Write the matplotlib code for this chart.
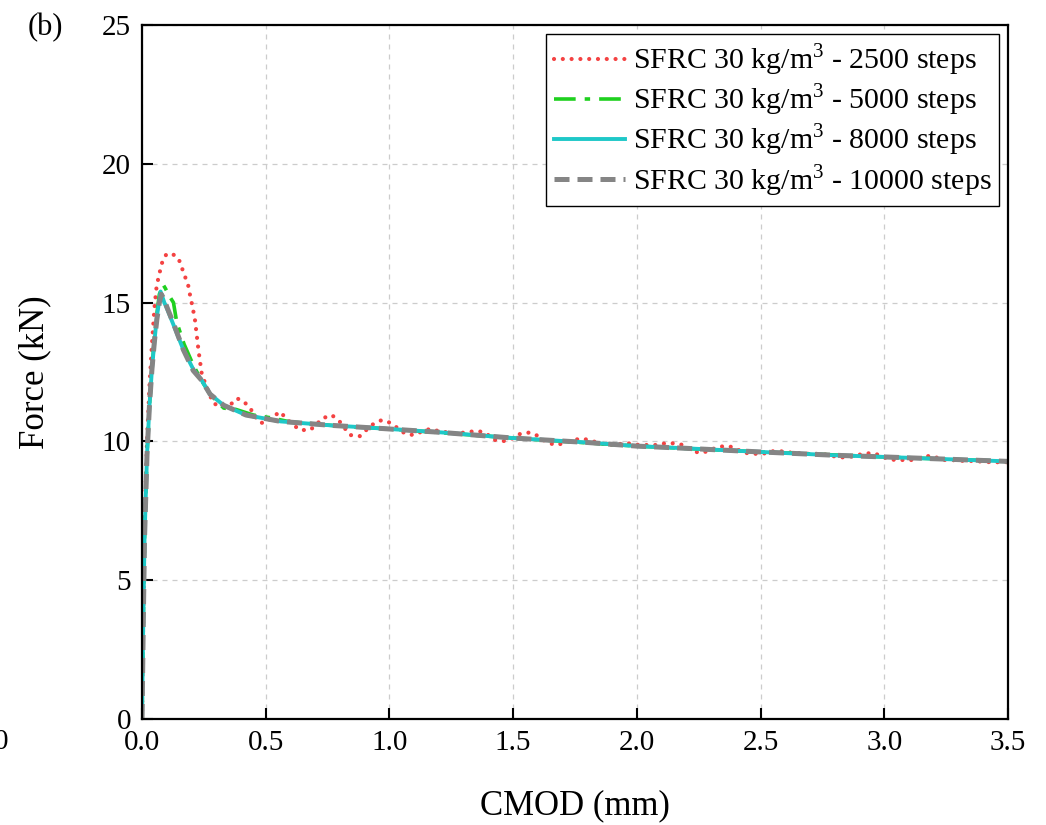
import matplotlib.pyplot as plt

plt.rcParams['font.family'] = ['Liberation Serif', 'DejaVu Serif']
plt.rcParams['mathtext.fontset'] = 'custom'
plt.rcParams['mathtext.rm'] = 'Liberation Serif'

# 2500 steps (red dotted)
x_2500 = [0, 0.005, 0.01, 0.02, 0.03, 0.04, 0.05, 0.059, 0.069, 0.077, 0.086, 0.1, 0.12, 0.147,
          0.174, 0.187, 0.194, 0.205, 0.214, 0.228, 0.241, 0.26, 0.288, 0.322, 0.355, 0.383, 0.41,
          0.437, 0.477, 0.505, 0.53, 0.558, 0.582, 0.61, 0.639, 0.679, 0.705, 0.726, 0.767, 0.80,
          0.84, 0.88, 0.928, 0.969, 1.0, 1.03, 1.063, 1.096, 1.13, 1.164, 1.19, 1.23, 1.272, 1.326,
          1.36, 1.39, 1.42, 1.46, 1.49, 1.528, 1.566, 1.60, 1.633, 1.67, 1.705, 1.74, 1.78, 1.81,
          1.85, 1.89, 1.92, 1.966, 2.0, 2.04, 2.08, 2.114, 2.15, 2.188, 2.228, 2.266, 2.3, 2.33,
          2.37, 2.40, 2.43, 2.485, 2.52, 2.56, 2.62, 2.7, 2.75, 2.82, 2.86, 2.923, 2.96, 3.02,
          3.05, 3.12, 3.165, 3.2, 3.23, 3.27, 3.31, 3.34, 3.38, 3.43, 3.5]
y_2500 = [0, 3.8, 7.0, 10.0, 12.0, 13.5, 14.8, 15.6, 16.0, 16.3, 16.6, 16.75, 16.77, 16.6,
          15.93, 15.6, 15.27, 14.8, 14.37, 13.29, 12.45, 11.97, 11.37, 11.25, 11.3, 11.55, 11.45,
          11.19, 10.66, 10.7, 10.89, 11.07, 10.83, 10.6, 10.41, 10.41, 10.6, 10.82, 10.95, 10.7,
          10.23, 10.19, 10.59, 10.77, 10.68, 10.5, 10.28, 10.23, 10.35, 10.45, 10.39, 10.33, 10.28, 10.35,
          10.37, 10.3, 10.06, 10.01, 10.07, 10.27, 10.32, 10.2, 9.98, 9.87, 9.93, 10.05, 10.1, 10.04,
          9.93, 9.87, 9.9, 9.93, 9.88, 9.87, 9.87, 9.93, 9.93, 9.87, 9.63, 9.59, 9.7, 9.81,
          9.83, 9.75, 9.59, 9.55, 9.57, 9.67, 9.6, 9.55, 9.55, 9.42, 9.44, 9.57, 9.57, 9.35,
          9.33, 9.33, 9.47, 9.47, 9.33, 9.33, 9.3, 9.3, 9.28, 9.25, 9.25]

# 5000 steps (green dash-dot)
x_5000 = [0, 0.005, 0.01, 0.02, 0.03, 0.04, 0.05, 0.06, 0.07, 0.085, 0.095, 0.106, 0.127, 0.14,
          0.17, 0.207, 0.24, 0.275, 0.33, 0.38, 0.45, 0.52, 0.6, 0.8, 1.0, 1.5, 2.0, 2.5, 3.0, 3.5]
y_5000 = [0, 3.5, 6.5, 9.5, 11.3, 12.6, 13.7, 14.6, 15.3, 15.65, 15.5, 15.3, 15.0, 14.3,
          13.5, 12.75, 12.2, 11.7, 11.2, 11.15, 10.95, 10.85, 10.7, 10.55, 10.45, 10.12, 9.83, 9.62, 9.44, 9.28]

# 8000 steps (cyan solid)
x_8000 = [0, 0.005, 0.01, 0.02, 0.03, 0.04, 0.05, 0.06, 0.075, 0.09, 0.1, 0.127, 0.167, 0.207,
          0.241, 0.275, 0.33, 0.42, 0.56, 0.76, 0.96, 1.2, 1.5, 1.8, 2.0, 2.2, 2.5, 2.8, 3.0, 3.25, 3.5]
y_8000 = [0, 3.5, 6.5, 9.5, 11.3, 12.6, 13.6, 14.5, 15.4, 15.0, 14.8, 14.2, 13.3, 12.6,
          12.2, 11.7, 11.3, 10.95, 10.72, 10.58, 10.47, 10.33, 10.12, 9.96, 9.83, 9.75, 9.62, 9.5, 9.44, 9.36, 9.28]

# 10000 steps (gray dashed)
x_10000 = [0, 0.005, 0.01, 0.02, 0.03, 0.04, 0.05, 0.06, 0.07, 0.078, 0.09, 0.1, 0.127, 0.167,
           0.207, 0.241, 0.275, 0.33, 0.42, 0.56, 0.76, 0.96, 1.2, 1.5, 1.8, 2.0, 2.2, 2.5, 2.8,
           3.0, 3.25, 3.5]
y_10000 = [0, 3.5, 6.5, 9.5, 11.3, 12.6, 13.6, 14.4, 15.0, 15.3, 15.1, 14.85, 14.25, 13.3,
           12.55, 12.2, 11.7, 11.3, 10.95, 10.72, 10.58, 10.47, 10.33, 10.12, 9.96, 9.83, 9.75, 9.62, 9.5,
           9.44, 9.36, 9.28]

labels = ['SFRC 30 kg/m$^3$ - 2500 steps', 'SFRC 30 kg/m$^3$ - 5000 steps',
          'SFRC 30 kg/m$^3$ - 8000 steps', 'SFRC 30 kg/m$^3$ - 10000 steps']
x_ticks = [0.0, 0.5, 1.0, 1.5, 2.0, 2.5, 3.0, 3.5]
y_ticks = [0, 5, 10, 15, 20, 25]

fig = plt.figure(figsize=(10.46, 8.25), dpi=100)
ax = fig.add_axes([0.1358, 0.1285, 0.8279, 0.8412])

ax.plot(x_2500, y_2500, color='#f44242', lw=3.0, linestyle=(0, (0.01, 2.1)),
        dash_capstyle='round', label=labels[0])
ax.plot(x_5000, y_5000, color='#1fd01f', lw=2.6, linestyle=(0, (6, 2.5, 1.5, 2.5)), label=labels[1])
ax.plot(x_8000, y_8000, color='#1ec8c8', lw=2.8, label=labels[2])
ax.plot(x_10000, y_10000, color='#858585', lw=3.6, linestyle=(0, (3.0, 1.6)), label=labels[3])

ax.set_xlim(0, 3.5)
ax.set_ylim(0, 25)
ax.set_xticks(x_ticks)
ax.set_xticklabels(['%.1f' % t for t in x_ticks])
ax.set_yticks(y_ticks)
ax.grid(True, linestyle=(0, (4, 4)), color='#cccccc', lw=0.9)
ax.set_axisbelow(True)
ax.tick_params(direction='in', length=8, width=1.5, labelsize=21, pad=8)
for s in ax.spines.values():
    s.set_linewidth(1.6)

ax.set_xlabel('CMOD (mm)', fontsize=25, labelpad=24)
ax.set_ylabel('Force (kN)', fontsize=25, labelpad=36)

leg = ax.legend(loc='upper right', fontsize=21.5, frameon=True, fancybox=False,
                edgecolor='black', framealpha=1, handlelength=2.4, handletextpad=0.25,
                labelspacing=0.12, borderpad=0.25, borderaxespad=0.3)
leg.get_frame().set_linewidth(1.0)

fig.text(0.043, 0.967, '(b)', fontsize=22, ha='center', va='center')
fig.text(0.001, 0.101, '0', fontsize=21, ha='center', va='center')

fig.savefig('out.png', dpi=100)
